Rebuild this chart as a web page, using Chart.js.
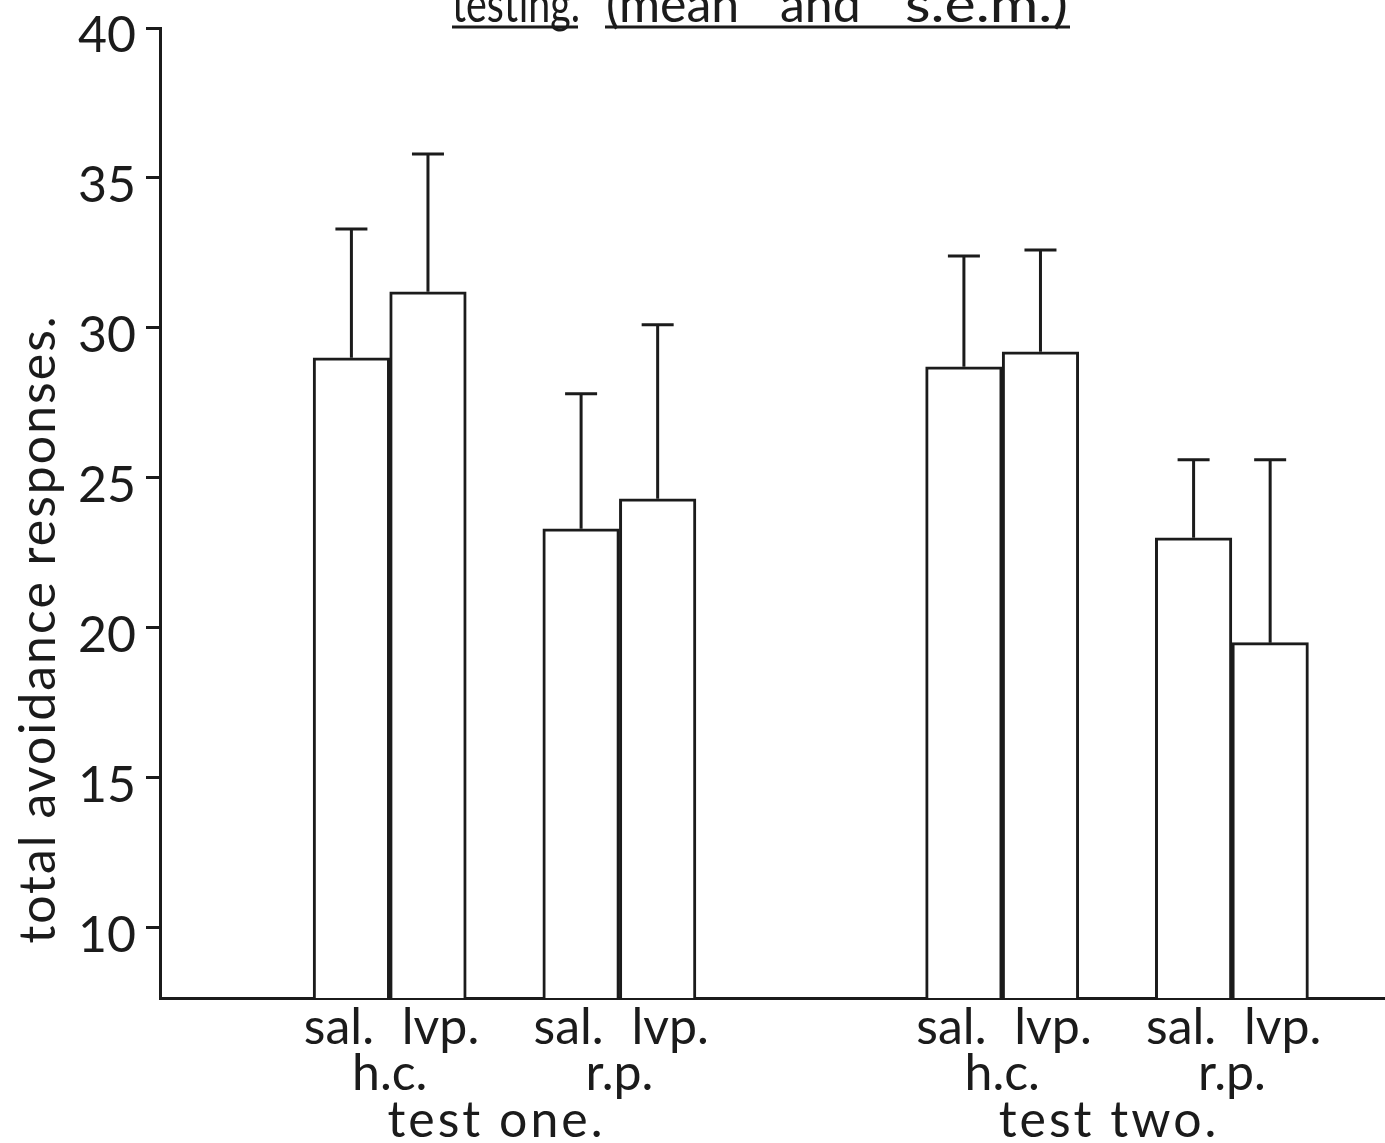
<!DOCTYPE html>
<html>
<head>
<meta charset="utf-8">
<title>total avoidance responses</title>
<script src="https://cdn.jsdelivr.net/npm/chart.js@4/dist/chart.umd.min.js"></script>
<style>
  html, body { margin: 0; padding: 0; background: #fff; }
  #wrap { position: relative; width: 1385px; height: 1143px; }
</style>
</head>
<body>
<div id="wrap"><canvas id="chart"></canvas></div>
<script>
// drug condition of each bar, in drawing order
const conditions = ['sal.', 'lvp.', 'sal.', 'lvp.', 'sal.', 'lvp.', 'sal.', 'lvp.'];
// mean total avoidance responses and s.e.m.
const means = [29.0, 31.2, 23.3, 24.3, 28.7, 29.2, 23.0, 19.5];
const sems = [4.3, 4.6, 4.5, 5.8, 3.7, 3.4, 2.6, 6.1];
// housing group under each pair, test session under each pair of groups
const housing = ['h.c.', 'r.p.', 'h.c.', 'r.p.'];
const sessions = ['test one.', 'test two.'];
const yTicks = [10, 15, 20, 25, 30, 35, 40];

const INK = '#1b1b1b';
const FONT = 'Lato, "Open Sans", "DejaVu Sans", sans-serif';
const LINE = 3;

// bars sit in equal-width slots along the axis; gaps are empty slots
const SLOT_COUNT = 16;
const barSlot = [2, 3, 5, 6, 10, 11, 13, 14];

const slotLabels = new Array(SLOT_COUNT).fill('');
const slotValues = new Array(SLOT_COUNT).fill(null);
const slotSem = new Array(SLOT_COUNT).fill(null);
barSlot.forEach((s, i) => {
  slotLabels[s] = conditions[i];
  slotValues[s] = means[i];
  slotSem[s] = sems[i];
});

// upward s.e.m. whisker with a short cap
const errorBars = {
  id: 'errorBars',
  afterDatasetsDraw(chart) {
    const { ctx, scales: { y } } = chart;
    const meta = chart.getDatasetMeta(0);
    ctx.save();
    ctx.strokeStyle = INK;
    ctx.lineWidth = LINE;
    meta.data.forEach((bar, i) => {
      if (slotValues[i] === null) return;
      const top = y.getPixelForValue(slotValues[i] + slotSem[i]);
      ctx.beginPath();
      ctx.moveTo(bar.x, bar.y);
      ctx.lineTo(bar.x, top);
      ctx.moveTo(bar.x - 16, top);
      ctx.lineTo(bar.x + 16, top);
      ctx.stroke();
    });
    ctx.restore();
  }
};

// text squeezed or stretched to a given width
function fitText(ctx, txt, x0, y0, width) {
  const w = ctx.measureText(txt).width;
  ctx.save();
  ctx.translate(x0, y0);
  ctx.scale(width / w, 1);
  ctx.fillText(txt, 0, 0);
  ctx.restore();
}

// y tick numbers sit a little below their tick marks
const yLabels = {
  id: 'yLabels',
  afterDraw(chart) {
    const { ctx, scales: { y } } = chart;
    ctx.save();
    ctx.fillStyle = INK;
    ctx.font = `50px ${FONT}`;
    ctx.textAlign = 'right';
    ctx.textBaseline = 'middle';
    yTicks.forEach(v => ctx.fillText(String(v), y.left + 136, y.getPixelForValue(v) + 8));
    ctx.restore();
  }
};

// group and session captions, y-axis title and the underlined heading
const annotations = {
  id: 'annotations',
  afterDraw(chart) {
    const { ctx, scales: { x } } = chart;
    const half = (x.getPixelForValue(1) - x.getPixelForValue(0)) / 2;
    const edge = (slot) => x.getPixelForValue(slot) - half;
    ctx.save();
    ctx.fillStyle = INK;
    ctx.font = `50px ${FONT}`;
    ctx.textAlign = 'center';
    ctx.textBaseline = 'alphabetic';

    for (let g = 0; g < housing.length; g++) {
      const cx = edge(barSlot[g * 2 + 1]);
      ctx.fillText(housing[g], cx, 1090);
    }
    ctx.letterSpacing = '3px';
    for (let s = 0; s < sessions.length; s++) {
      const a = edge(barSlot[s * 4 + 1]);
      const b = edge(barSlot[s * 4 + 3]);
      ctx.fillText(sessions[s], (a + b) / 2 - 8, 1137);
    }

    ctx.save();
    ctx.letterSpacing = '2px';
    ctx.translate(55, 629);
    ctx.rotate(-Math.PI / 2);
    ctx.fillText('total avoidance responses.', 0, 0);
    ctx.restore();

    // heading, mostly above the top edge
    ctx.letterSpacing = '0px';
    ctx.textAlign = 'left';
    fitText(ctx, 'testing.', 452, 22, 128);
    ctx.fillText('(mean', 606, 22);
    ctx.fillText('and', 780, 22);
    fitText(ctx, 's.e.m.)', 905, 22, 163);
    ctx.strokeStyle = INK;
    ctx.lineWidth = LINE;
    ctx.beginPath();
    ctx.moveTo(452, 27);
    ctx.lineTo(578, 27);
    ctx.moveTo(605, 27);
    ctx.lineTo(1070, 27);
    ctx.stroke();
    ctx.restore();
  }
};

const canvas = document.getElementById('chart');
canvas.width = 1385;
canvas.height = 1143;

new Chart(canvas.getContext('2d'), {
  type: 'bar',
  data: {
    labels: slotLabels,
    datasets: [{
      data: slotValues,
      backgroundColor: '#ffffff',
      borderColor: INK,
      borderWidth: LINE,
      borderSkipped: 'bottom',
      barPercentage: 1,
      categoryPercentage: 1
    }]
  },
  options: {
    responsive: false,
    animation: false,
    devicePixelRatio: 1,
    layout: { padding: { top: 28, right: 0, left: 0, bottom: 0 } },
    plugins: {
      legend: { display: false },
      tooltip: { enabled: false },
      title: { display: false }
    },
    scales: {
      x: {
        type: 'category',
        grid: { display: false, drawTicks: false },
        border: { display: true, color: INK, width: LINE },
        ticks: {
          autoSkip: false,
          maxRotation: 0,
          minRotation: 0,
          padding: 0,
          color: INK,
          font: { family: FONT, size: 50, lineHeight: 1.2 },
          // nudge the two words of each pair apart
          callback: function (value) {
            const lab = this.getLabelForValue(value);
            if (lab === 'sal.') return 'sal.\u2002';
            if (lab === 'lvp.') return '\u2002lvp.';
            return lab;
          }
        },
        afterFit: (scale) => { scale.height = 145; scale.paddingLeft = 0; scale.paddingRight = 0; }
      },
      y: {
        min: 7.65,
        max: 40,
        grid: {
          display: true,
          drawOnChartArea: false,
          drawTicks: true,
          tickLength: 14,
          color: INK,
          lineWidth: LINE
        },
        border: { display: true, color: INK, width: LINE },
        ticks: { display: false },
        afterBuildTicks: (scale) => { scale.ticks = yTicks.map(v => ({ value: v })); },
        afterFit: (scale) => { scale.width = 160; scale.paddingTop = 0; scale.paddingBottom = 0; }
      }
    }
  },
  plugins: [errorBars, yLabels, annotations]
});
</script>
</body>
</html>
